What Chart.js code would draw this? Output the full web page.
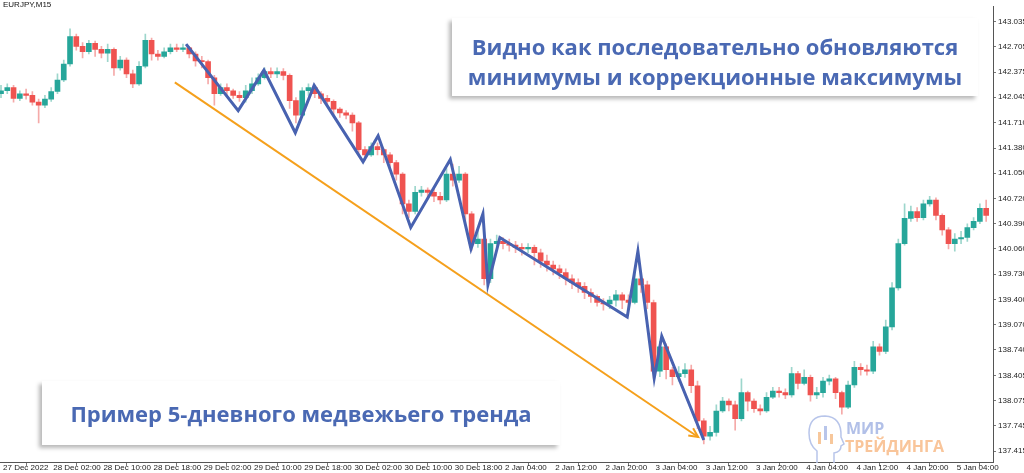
<!DOCTYPE html>
<html>
<head>
<meta charset="utf-8">
<script src="https://cdn.jsdelivr.net/npm/chart.js@4.4.1/dist/chart.umd.min.js"></script>
<style>
  body { margin: 0; background: #fff; }
  #wrap { position: relative; width: 1024px; height: 473px; overflow: hidden; }
  canvas { position: absolute; left: 0; top: 0; }
  .box { position: absolute; background: #fff; box-shadow: -3px 3px 4px rgba(0,0,0,0.28);
         color: #4a69b3; font-family: "Open Sans", sans-serif; font-weight: 700; text-align: center; }
  #sym { position: absolute; left: 3px; top: 0px; font: 8px "Liberation Sans", sans-serif; color: #111; }
  .logo { position: absolute; font-family: "Open Sans", sans-serif; font-weight: 700; font-size: 16px; line-height: 18px; }
</style>
</head>
<body>
<div id="wrap">
  <canvas id="chart" width="1024" height="473"></canvas>
  <div id="sym">EURJPY,M15</div>
  <div class="box" style="left:452px;top:18px;width:526px;height:78px;font-size:22px;line-height:30px;">
    <div style="margin-top:13px">Видно как последовательно обновляются</div>
    <div>минимумы и коррекционные максимумы</div>
  </div>
  <div class="box" style="left:42px;top:381px;width:518px;height:64px;font-size:22px;line-height:64px;">
    Пример 5-дневного медвежьего тренда
  </div>
  <svg style="position:absolute;left:806px;top:412px" width="42" height="52">
    <path d="M28 51 L28 41 Q35 40 35 34 L38 32 L35 25 Q36 5 19 4 Q3 4 3 21 Q3 33 11 39 L11 51" fill="none" stroke="#b8c5ea" stroke-width="1.5"/>
    <rect x="12" y="20" width="3" height="12" fill="#f7c79b"/>
    <rect x="18" y="14" width="3" height="14" fill="#b8c5ea"/>
    <rect x="24" y="22" width="3" height="10" fill="#f7c79b"/>
  </svg>
  <div class="logo" style="left:846px;top:419px;color:#b2c0e8;">МИР</div>
  <div class="logo" style="left:845px;top:437px;color:#f9c59a;">ТРЕЙДИНГА</div>
</div>
<script>
// EURJPY M15 chart, drawn as hourly candles
const xLabels = ['27 Dec 2022','28 Dec 02:00','28 Dec 10:00','28 Dec 18:00','29 Dec 02:00','29 Dec 10:00',
  '29 Dec 18:00','30 Dec 02:00','30 Dec 10:00','30 Dec 18:00','2 Jan 04:00','2 Jan 12:00','2 Jan 20:00',
  '3 Jan 04:00','3 Jan 12:00','3 Jan 20:00','4 Jan 04:00','4 Jan 12:00','4 Jan 20:00','5 Jan 04:00'];
const yTicks = [143.035,142.705,142.375,142.045,141.710,141.380,141.050,140.720,140.390,140.060,
  139.730,139.400,139.070,138.740,138.405,138.075,137.745,137.415];

const open = [142.09,142.13,142.17,142.03,142.09,142.07,141.98,141.94,142.02,142.12,
  142.27,142.48,142.84,142.71,142.64,142.75,142.67,142.62,142.67,142.43,
  142.53,142.35,142.22,142.45,142.79,142.61,142.58,142.64,142.69,142.67,
  142.69,142.61,142.52,142.51,142.30,142.09,142.17,142.13,142.07,142.04,
  142.13,142.22,142.30,142.38,142.35,142.38,142.33,142.00,141.81,142.13,
  142.17,142.09,142.03,141.99,141.89,141.84,141.81,141.71,141.36,141.29,
  141.40,141.36,141.29,141.19,141.04,140.65,140.55,140.80,140.83,140.80,
  140.75,140.70,141.04,140.96,141.04,140.52,140.13,140.19,139.67,140.13,
  140.16,140.13,140.11,140.08,140.06,140.08,140.01,139.90,139.85,139.80,
  139.75,139.67,139.62,139.57,139.49,139.44,139.36,139.34,139.39,139.46,
  139.39,139.36,139.67,139.59,139.36,138.46,138.78,138.48,138.39,138.43,
  138.48,138.27,137.81,137.61,137.66,137.94,138.07,138.02,137.84,138.18,
  138.07,137.97,137.94,138.12,138.20,138.18,138.15,138.43,138.30,138.38,
  138.15,138.18,138.33,138.36,138.18,137.99,138.28,138.51,138.48,138.46,
  138.78,138.72,139.04,139.55,140.13,140.46,140.55,140.47,140.65,140.70,
  140.50,140.31,140.13,140.19,140.21,140.34,140.42,140.59];
const high = [142.20,142.22,142.20,142.13,142.15,142.12,142.02,142.07,142.17,142.35,
  142.53,142.94,142.87,142.76,142.79,142.78,142.71,142.74,142.69,142.58,
  142.56,142.40,142.51,142.87,142.82,142.66,142.69,142.74,142.74,142.74,
  142.71,142.64,142.58,142.53,142.33,142.22,142.22,142.15,142.12,142.20,
  142.30,142.35,142.43,142.43,142.43,142.42,142.35,142.04,142.17,142.22,
  142.20,142.12,142.07,142.01,141.91,141.87,141.84,141.73,141.40,141.45,
  141.45,141.37,141.32,141.22,141.06,140.70,140.88,140.88,140.86,140.86,
  140.80,141.11,141.17,141.14,141.06,140.55,140.31,140.21,140.19,140.24,
  140.21,140.19,140.16,140.13,140.13,140.11,140.06,139.98,139.90,139.85,
  139.80,139.72,139.67,139.62,139.54,139.46,139.41,139.44,139.52,139.49,
  139.46,139.75,139.77,139.64,139.39,138.85,138.82,138.51,138.52,138.56,
  138.54,138.33,137.84,137.74,138.02,138.12,138.10,138.07,138.36,138.20,
  138.10,138.02,138.18,138.25,138.25,138.23,138.51,138.46,138.48,138.41,
  138.25,138.38,138.41,138.38,138.20,138.33,138.59,138.56,138.54,138.85,
  138.82,139.13,139.62,140.19,140.65,140.62,140.60,140.70,140.75,140.73,
  140.52,140.34,140.26,140.29,140.39,140.47,140.65,140.70];
const low = [142.04,142.09,141.98,142.00,142.02,141.94,141.71,141.91,141.99,142.09,
  142.25,142.45,142.66,142.56,142.61,142.58,142.56,142.51,142.33,142.40,
  142.30,142.17,142.20,142.43,142.53,142.53,142.56,142.61,142.64,142.64,
  142.56,142.45,142.43,142.22,141.94,142.07,142.07,142.03,141.99,141.98,
  142.09,142.20,142.28,142.30,142.30,142.27,141.90,141.71,141.78,142.07,
  142.04,141.96,141.94,141.81,141.78,141.76,141.60,141.29,141.22,141.27,
  141.29,141.19,141.11,140.96,140.52,140.47,140.52,140.75,140.73,140.68,
  140.65,140.68,140.88,140.93,140.39,140.04,140.08,139.59,139.62,140.08,
  140.06,140.03,140.01,139.98,140.01,139.85,139.82,139.77,139.72,139.67,
  139.59,139.54,139.49,139.41,139.36,139.31,139.26,139.28,139.31,139.28,
  139.28,139.34,139.49,139.28,138.37,138.39,138.36,138.28,138.33,138.38,
  138.18,137.71,137.51,137.56,137.61,137.92,137.94,137.69,137.81,137.94,
  137.92,137.89,137.92,138.10,138.12,138.10,138.12,138.23,138.28,138.07,
  138.10,138.12,138.28,138.10,137.90,137.97,138.25,138.41,138.41,138.43,
  138.67,138.69,139.00,139.52,140.11,140.42,140.42,140.44,140.62,140.44,
  140.24,140.06,140.03,140.13,140.16,140.31,140.39,140.42];
const close = [142.13,142.17,142.03,142.09,142.07,141.98,141.94,142.02,142.12,142.27,
  142.48,142.84,142.71,142.64,142.75,142.67,142.62,142.67,142.43,142.53,
  142.35,142.22,142.45,142.79,142.61,142.58,142.64,142.69,142.67,142.69,
  142.61,142.52,142.51,142.30,142.09,142.17,142.13,142.07,142.04,142.13,
  142.22,142.30,142.38,142.35,142.38,142.33,142.00,141.81,142.13,142.17,
  142.09,142.03,141.99,141.89,141.84,141.81,141.71,141.36,141.29,141.40,
  141.36,141.29,141.19,141.04,140.65,140.55,140.80,140.83,140.80,140.75,
  140.70,141.04,140.96,141.04,140.52,140.13,140.19,139.67,140.13,140.16,
  140.13,140.11,140.08,140.06,140.08,140.01,139.90,139.85,139.80,139.75,
  139.67,139.62,139.57,139.49,139.44,139.36,139.34,139.39,139.46,139.39,
  139.36,139.67,139.59,139.36,138.46,138.78,138.48,138.39,138.43,138.48,
  138.27,137.81,137.61,137.66,137.94,138.07,138.02,137.84,138.18,138.07,
  137.97,137.94,138.12,138.20,138.18,138.15,138.43,138.30,138.38,138.15,
  138.18,138.33,138.36,138.18,137.99,138.28,138.51,138.48,138.46,138.78,
  138.72,139.04,139.55,140.13,140.46,140.55,140.47,140.65,140.70,140.50,
  140.31,140.13,140.19,140.21,140.34,140.42,140.59,140.50];

// blue zigzag over swing highs / lows (x = candle index)
const zigX = [29.5,37.8,41.9,46.9,49.9,57.7,60.1,65.3,71.6,74.9,76.8,77.6,79.5,99.8,101.5,104.1,105.3,112.0];
const zigY = [142.74,141.87,142.40,141.58,142.20,141.20,141.54,140.34,141.23,140.06,140.52,139.59,140.21,139.17,140.03,138.37,138.92,137.56];
// orange trend arrow
const arrowX = [27.7, 111.1];
const arrowY = [142.24, 137.60];

const upColor = '#26a69a', downColor = '#ef5350';
const upWick = '#9dd6cc', downWick = '#f5aaa9';

const bodies = close.map((c, i) => ({ x: i, y: [open[i], c] }));
const wicks = close.map((c, i) => ({ x: i, y: [low[i], high[i]] }));
const bodyColors = close.map((c, i) => c >= open[i] ? upColor : downColor);
const wickColors = close.map((c, i) => c >= open[i] ? upWick : downWick);

const arrowHead = {
  id: 'arrowHead',
  afterDatasetsDraw(chart) {
    const pts = chart.getDatasetMeta(1).data;
    const a = pts[0], b = pts[pts.length - 1];
    const ang = Math.atan2(b.y - a.y, b.x - a.x);
    const ctx = chart.ctx;
    ctx.save();
    ctx.strokeStyle = '#f5a01c';
    ctx.lineWidth = 2;
    ctx.beginPath();
    ctx.moveTo(b.x - 10 * Math.cos(ang - 0.45), b.y - 10 * Math.sin(ang - 0.45));
    ctx.lineTo(b.x, b.y);
    ctx.lineTo(b.x - 10 * Math.cos(ang + 0.45), b.y - 10 * Math.sin(ang + 0.45));
    ctx.stroke();
    ctx.restore();
  }
};

const axisFont = { family: 'Liberation Sans', size: 8 };

new Chart(document.getElementById('chart'), {
  type: 'bar',
  data: {
    datasets: [
      { type: 'line', data: zigX.map((x, i) => ({ x: x, y: zigY[i] })), borderColor: '#4862b0',
        borderWidth: 3, pointRadius: 0, tension: 0, order: 0 },
      { type: 'line', data: arrowX.map((x, i) => ({ x: x, y: arrowY[i] })), borderColor: '#f5a01c',
        borderWidth: 2, pointRadius: 0, tension: 0, order: 1 },
      { data: bodies, backgroundColor: bodyColors, barThickness: 5, minBarLength: 1, grouped: false, order: 2 },
      { data: wicks, backgroundColor: wickColors, barThickness: 1, grouped: false, order: 3 }
    ]
  },
  options: {
    responsive: false,
    animation: false,
    layout: { padding: 0 },
    plugins: { legend: { display: false }, tooltip: { enabled: false } },
    scales: {
      x: {
        type: 'linear', min: -0.16, max: 158.09, offset: false,
        afterBuildTicks: s => { s.ticks = xLabels.map((_, i) => ({ value: i * 8 })); },
        afterFit: s => { s.height = 11; },
        grid: { drawOnChartArea: false, tickLength: 4, color: '#777' },
        border: { color: '#555' },
        ticks: { callback: (v, i) => xLabels[i], align: 'start', maxRotation: 0, autoSkip: false,
                 padding: -3, labelOffset: 2, font: axisFont, color: '#222' }
      },
      y: {
        position: 'right', min: 137.273, max: 143.228,
        afterBuildTicks: s => { s.ticks = yTicks.map(v => ({ value: v })); },
        afterFit: s => { s.width = 31; },
        grid: { drawOnChartArea: false, tickLength: 3, color: '#777' },
        border: { color: '#555' },
        ticks: { callback: v => v.toFixed(3), padding: 2, font: axisFont, color: '#222' }
      }
    }
  },
  plugins: [arrowHead]
});
</script>
</body>
</html>
